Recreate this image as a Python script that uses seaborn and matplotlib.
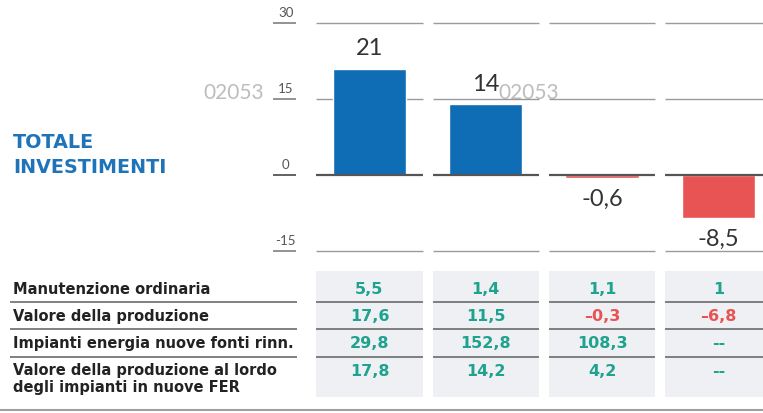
import matplotlib
matplotlib.use('Agg')
import matplotlib.pyplot as plt
import seaborn as sns
import pandas as pd
from matplotlib.patches import Rectangle

sns.set_theme(style='white')
plt.rcParams['font.family'] = ['Lato', 'DejaVu Sans']

# dati
colonne = ['A', 'B', 'C', 'D']
totale = [21, 14, -0.6, -8.5]
tick_y = [30, 15, 0, -15]

righe = ['Manutenzione ordinaria',
         'Valore della produzione',
         'Impianti energia nuove fonti rinn.',
         'Valore della produzione al lordo\ndegli impianti in nuove FER']
manutenzione = [5.5, 1.4, 1.1, 1]
produzione = [17.6, 11.5, -0.3, -6.8]
impianti = [29.8, 152.8, 108.3, None]
lordo = [17.8, 14.2, 4.2, None]
tabella = [manutenzione, produzione, impianti, lordo]

BLU = '#0f6db5'
ROSSO = '#e85454'
VERDE = '#1fa38f'
LARGO = ['DejaVu Sans']


def fmt(v, dash='-'):
    if v is None:
        return '--'
    s = ('%g' % abs(v)).replace('.', ',')
    return (dash + s) if v < 0 else s


W, H = 763, 414
fig = plt.figure(figsize=(W / 100, H / 100), dpi=100)

# sfondo in pixel per testi liberi
bg = fig.add_axes([0, 0, 1, 1])
bg.set_xlim(0, W)
bg.set_ylim(H, 0)
bg.set_axis_off()

# mappa x: categoria i -> pixel
x0_px, step = 311.35, 116.3
xmax = -0.5 + (W - x0_px) / step
half = 0.456

# grafico a barre
top_px, bot_px = 8.8, 267.2
ax = fig.add_axes([x0_px / W, (H - bot_px) / H, (W - x0_px) / W, (bot_px - top_px) / H])
df = pd.DataFrame({'col': colonne, 'val': totale})
df['segno'] = ['pos' if v >= 0 else 'neg' for v in totale]
sns.barplot(data=df, x='col', y='val', hue='segno', palette={'pos': BLU, 'neg': ROSSO},
            dodge=False, width=0.63, saturation=1, legend=False, ax=ax, zorder=2)
ax.set_xlim(-0.5, xmax)
ax.set_ylim(-18, 33)
ax.set_axis_off()

for y in tick_y:
    for i in range(len(colonne)):
        ax.hlines(y, i - half, i + half, color='#555555' if y == 0 else '#9a9a9a',
                  lw=1.6 if y == 0 else 1.0, zorder=3 if y == 0 else 1)
    ax.text(-0.72, y + 1.0, str(y), ha='center', va='bottom', fontsize=9.5, color='#555555')
    ax.hlines(y, -0.83, -0.63, color='#555555' if y == 0 else '#8a8a8a', lw=1.3, clip_on=False)

for i, v in enumerate(totale):
    if v >= 0:
        ax.text(i, v + 2.0, fmt(v), ha='center', va='bottom', fontsize=17, color='#333333')
    else:
        ax.text(i, v - 2.0, fmt(v), ha='center', va='top', fontsize=17, color='#333333')

# titolo e filigrane
bg.text(13, 155, 'TOTALE\nINVESTIMENTI', ha='left', va='center', fontsize=13.8,
        fontweight='bold', color='#1f74b9', linespacing=1.35, family=LARGO)
bg.text(234, 93, '02053', ha='center', va='center', fontsize=15, color='#bdbdbd')
bg.text(529, 93, '02053', ha='center', va='center', fontsize=15, color='#bdbdbd')

# tabella
t_top = 272
tab = fig.add_axes([x0_px / W, 0, (W - x0_px) / W, (H - t_top) / H])
tab.set_xlim(-0.5, xmax)
tab.set_ylim(H - t_top, 0)
tab.set_axis_off()

riga_y = [18, 45, 72, 100]
sep_y = [31, 58, 86]
for i in range(len(colonne)):
    tab.add_patch(Rectangle((i - half, 0), 2 * half, 126, color='#eef0f3', lw=0))
    tab.hlines(sep_y, i - half, i + half, color='#6b6b6b', lw=1.2)
    for r, serie in enumerate(tabella):
        v = serie[i]
        c = ROSSO if (v is not None and v < 0) else VERDE
        tab.text(i, riga_y[r], fmt(v, '–'), ha='center', va='center', fontsize=11.5,
                 fontweight='bold', color=c, family=LARGO)

for r, lab in enumerate(righe):
    if '\n' in lab:
        bg.text(13, t_top + riga_y[r] - 9, lab, ha='left', va='top', fontsize=10.5,
                fontweight='bold', color='#222222', linespacing=1.15, family=LARGO)
    else:
        bg.text(13, t_top + riga_y[r], lab, ha='left', va='center', fontsize=10.5,
                fontweight='bold', color='#222222', family=LARGO)
bg.hlines([t_top + s for s in sep_y], 10, 297, color='#6b6b6b', lw=1.2)
bg.hlines(411, 0, W, color='#a0a0a0', lw=1.5)

fig.savefig('out.png', dpi=100)
